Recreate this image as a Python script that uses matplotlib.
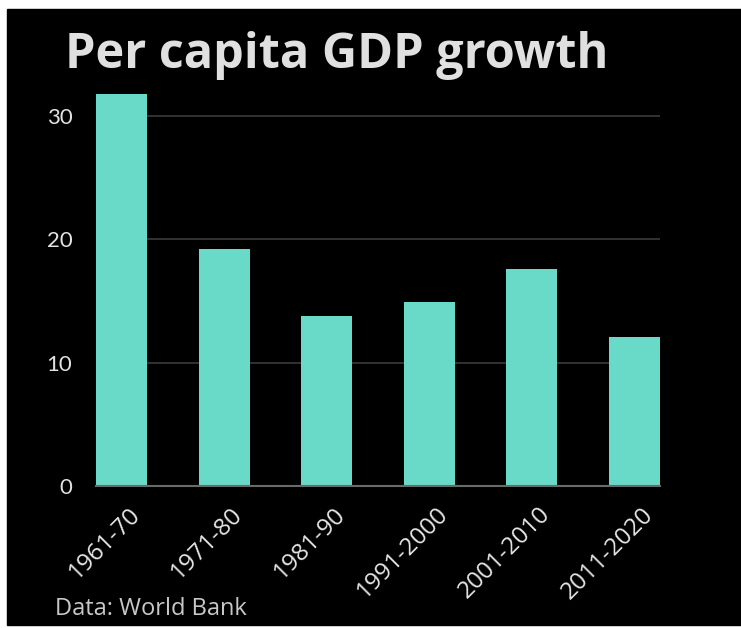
import numpy as np
import matplotlib.pyplot as plt
from matplotlib.patches import Rectangle
from matplotlib.transforms import ScaledTranslation

periods = ["1961-70", "1971-80", "1981-90", "1991-2000", "2001-2010", "2011-2020"]
growth = [31.8, 19.25, 13.8, 14.95, 17.6, 12.1]
yticks = [0, 10, 20, 30]

W, H = 741, 628
fig = plt.figure(figsize=(W / 100, H / 100), dpi=100, facecolor="white")
# black card with a thin white margin round it
fig.patches.append(Rectangle((7 / W, 3 / H), 1.01 - 7 / W, 1 - 12 / H,
                             transform=fig.transFigure, color="black", zorder=-10))

ax = fig.add_axes([96 / W, 142 / H, 564 / W, 394.7 / H])
ax.patch.set_alpha(0)

x = np.arange(len(periods))
ax.bar(x, growth, width=0.5, color="#69d9c8", zorder=3)

ax.set_xlim(-0.25, len(periods) - 0.75)
ax.set_ylim(0, 32)
ax.set_yticks(yticks)
ax.set_yticklabels([str(v) for v in yticks], fontsize=16, color="#e2e2e2", family="Lato")
ax.yaxis.grid(True, color="#3a3a3a", lw=1.2, zorder=0)
ax.tick_params(axis="y", length=0, pad=17)

ax.set_xticks(x)
ax.set_xticklabels(periods, rotation=45, ha="right", va="center",
                   rotation_mode="anchor", fontsize=17.5, color="#e6e6e6",
                   family="Open Sans")
ax.tick_params(axis="x", length=0, pad=18)
for lab in ax.get_xticklabels():
    lab.set_transform(lab.get_transform() + ScaledTranslation(0.15, 0, fig.dpi_scale_trans))

for s in ["top", "right", "left"]:
    ax.spines[s].set_visible(False)
ax.spines["bottom"].set_color("#6a6a6a")
ax.spines["bottom"].set_linewidth(1.5)
ax.spines["bottom"].set_zorder(4)

fig.text(65 / W, 1 - 68 / H, "Per capita GDP growth", fontsize=35, fontweight="bold",
         color="#e0e0e0", family="Open Sans", va="baseline")
fig.text(55 / W, 1 - 615 / H, "Data: World Bank", fontsize=17, color="#c8c8c8",
         family="Open Sans", va="baseline")

fig.savefig("out.png", dpi=100, facecolor="white")
